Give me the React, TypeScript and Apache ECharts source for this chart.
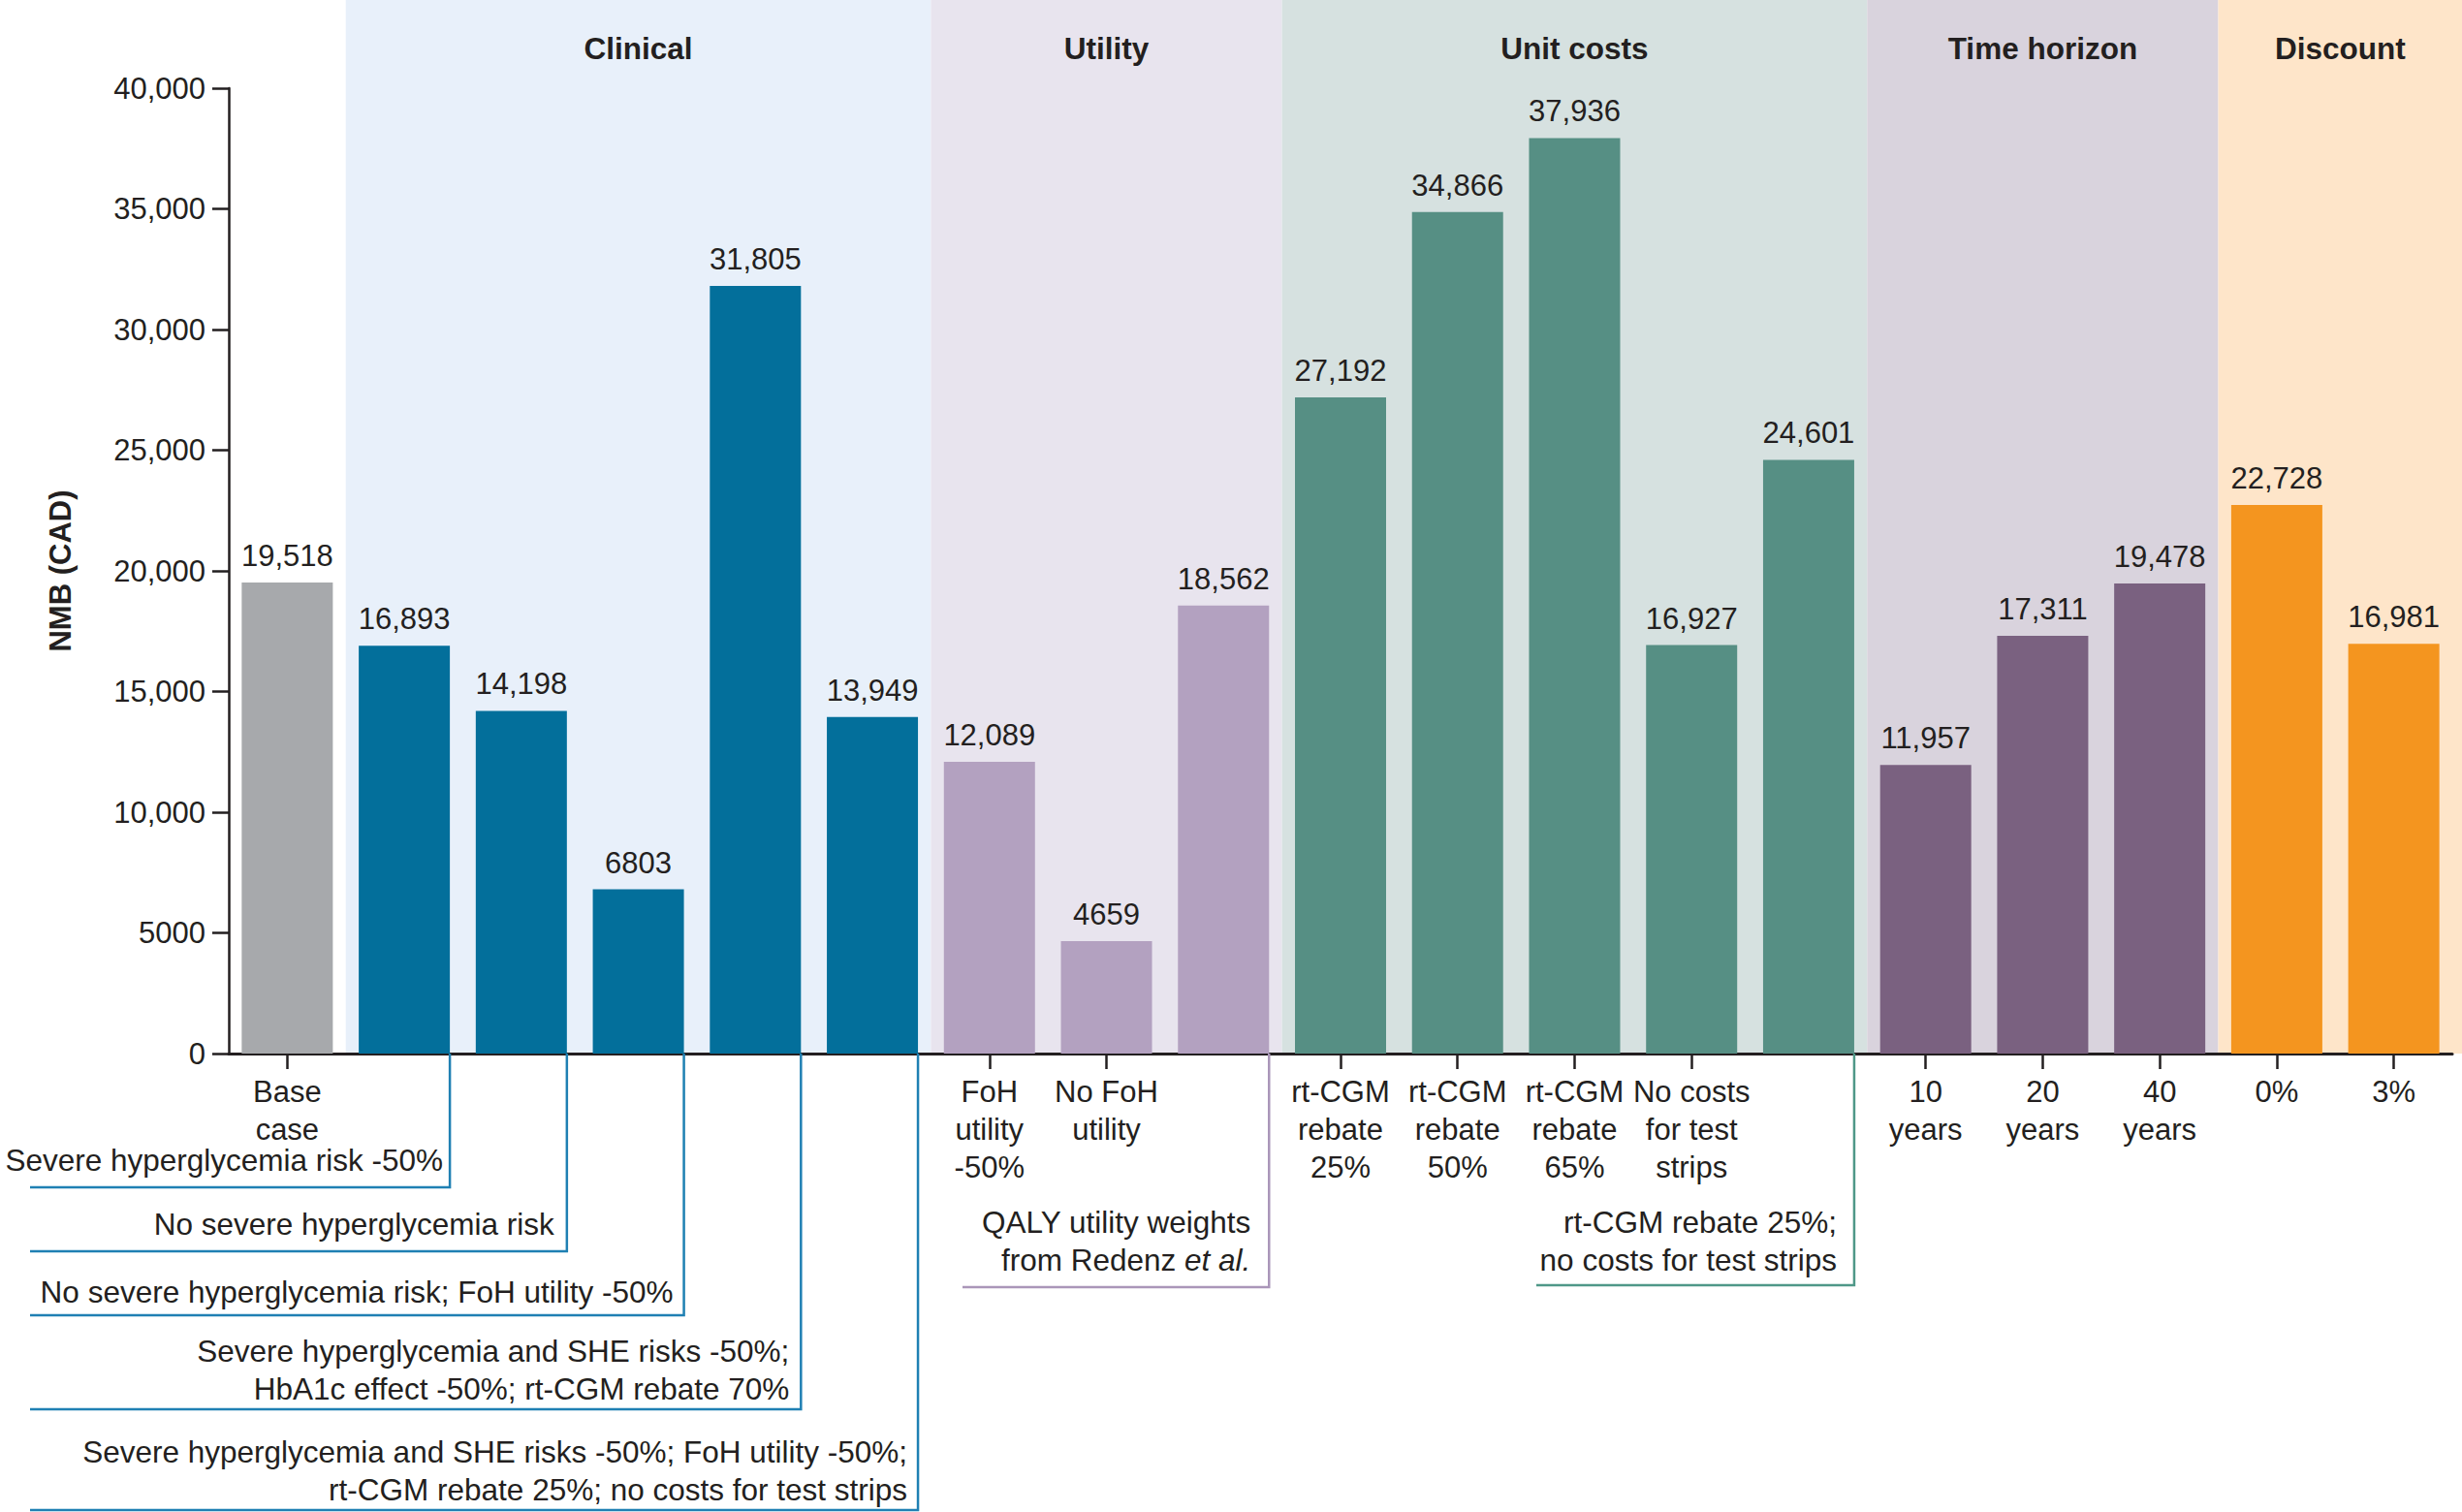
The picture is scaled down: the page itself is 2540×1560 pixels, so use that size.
import React, { useEffect, useRef } from "react";
import * as echarts from "echarts";

// ---- data ----
const categories = [
  "Base case",
  "Severe hyperglycemia risk -50%",
  "No severe hyperglycemia risk",
  "No severe hyperglycemia risk; FoH utility -50%",
  "Severe hyperglycemia and SHE risks -50%; HbA1c effect -50%; rt-CGM rebate 70%",
  "Severe hyperglycemia and SHE risks -50%; FoH utility -50%; rt-CGM rebate 25%; no costs for test strips",
  "FoH utility -50%",
  "No FoH utility",
  "QALY utility weights from Redenz et al.",
  "rt-CGM rebate 25%",
  "rt-CGM rebate 50%",
  "rt-CGM rebate 65%",
  "No costs for test strips",
  "rt-CGM rebate 25%; no costs for test strips",
  "10 years",
  "20 years",
  "40 years",
  "0%",
  "3%",
];

const values = [
  19518, 16893, 14198, 6803, 31805, 13949, 12089, 4659, 18562, 27192, 34866,
  37936, 16927, 24601, 11957, 17311, 19478, 22728, 16981,
];

const tickLabels = [
  "Base\ncase",
  "",
  "",
  "",
  "",
  "",
  "FoH\nutility\n-50%",
  "No FoH\nutility",
  "",
  "rt-CGM\nrebate\n25%",
  "rt-CGM\nrebate\n50%",
  "rt-CGM\nrebate\n65%",
  "No costs\nfor test\nstrips",
  "",
  "10\nyears",
  "20\nyears",
  "40\nyears",
  "0%",
  "3%",
];

// group of each bar (-1 = base case)
const barGroup = [-1, 0, 0, 0, 0, 0, 1, 1, 1, 2, 2, 2, 2, 2, 3, 3, 3, 4, 4];
const groupNames = ["Clinical", "Utility", "Unit costs", "Time horizon", "Discount"];
const groupStart = [1, 6, 9, 14, 17];
const groupEnd = [5, 8, 13, 16, 18];

// bracketed (long) labels
const bracketBars = [1, 2, 3, 4, 5, 8, 13];
const bracketTexts = [
  "Severe hyperglycemia risk -50%",
  "No severe hyperglycemia risk",
  "No severe hyperglycemia risk; FoH utility -50%",
  "Severe hyperglycemia and SHE risks -50%;\nHbA1c effect -50%; rt-CGM rebate 70%",
  "Severe hyperglycemia and SHE risks -50%; FoH utility -50%;\nrt-CGM rebate 25%; no costs for test strips",
  "QALY utility weights\nfrom Redenz {i|et al.}",
  "rt-CGM rebate 25%;\nno costs for test strips",
];

// ---- styles / layout ----
const baseColor = "#a7a9ac";
const groupBarColors = ["#036f9b", "#b3a1c0", "#568f84", "#7a6180", "#f4951f"];
const groupBgColors = ["#e8f0fa", "#e8e4ee", "#d6e1e0", "#d9d3dd", "#fee5c9"];
const groupLineColors = ["#1f80b3", "#aa96b9", "#4f9888", "#7a6180", "#f4951f"];
const bracketLineY = [1225, 1291, 1357, 1454, 1558, 1328, 1326];
const bracketLastTextY = [1197, 1263, 1333, 1433, 1537, 1300, 1300];
const bracketLeft = [31, 31, 31, 31, 31, 993, 1585];
const bracketTextGap = [7, 13, 11, 12, 11, 19, 18];

const FONT = "'Liberation Sans', Arial, Helvetica, sans-serif";
const TEXT = "#231f20";
const FS = 31;
const FS_NOTE = 31.5;
const LH = 39;
const W = 2540;
const H = 1560;
const BAR_W = 94;

const fmt = (v: number) => (v >= 10000 ? v.toLocaleString("en-US") : String(v));

export default function App() {
  const ref = useRef<HTMLDivElement>(null);

  useEffect(() => {
    document.body.style.margin = "0";
    const chart = echarts.init(ref.current!, null, { renderer: "svg" });
    chart.setOption({
      animation: false,
      backgroundColor: "#ffffff",
      grid: { left: 236, top: 91, width: 2294, bottom: 473, containLabel: false },
      xAxis: {
        type: "category",
        data: categories,
        axisLine: { lineStyle: { color: TEXT, width: 3 } },
        axisTick: {
          show: true,
          alignWithLabel: true,
          length: 16,
          interval: (i: number) => tickLabels[i] !== "",
          lineStyle: { color: TEXT, width: 2.5 },
        },
        axisLabel: {
          interval: 0,
          formatter: (_v: string, i: number) => tickLabels[i],
          fontSize: FS,
          lineHeight: LH,
          fontFamily: FONT,
          color: TEXT,
          margin: 20,
        },
      },
      yAxis: {
        type: "value",
        min: 0,
        max: 40000,
        interval: 5000,
        name: "NMB (CAD)",
        nameLocation: "middle",
        nameRotate: 90,
        nameGap: 158,
        nameTextStyle: { fontSize: FS, fontWeight: "bold", fontFamily: FONT, color: TEXT },
        axisLine: { show: true, lineStyle: { color: TEXT, width: 2.5 } },
        axisTick: { show: true, length: 17, lineStyle: { color: TEXT, width: 2.5 } },
        splitLine: { show: false },
        axisLabel: {
          formatter: (v: number) => fmt(v),
          fontSize: FS,
          fontFamily: FONT,
          color: TEXT,
          margin: 24,
        },
      },
      series: [
        {
          type: "bar",
          barWidth: BAR_W,
          data: values.map((v, i) => ({
            value: v,
            itemStyle: { color: barGroup[i] < 0 ? baseColor : groupBarColors[barGroup[i]] },
          })),
          label: {
            show: true,
            position: "top",
            distance: 12,
            formatter: (p: any) => fmt(p.value),
            fontSize: FS,
            fontFamily: FONT,
            color: TEXT,
          },
        },
      ],
    });

    const cx = (i: number) => chart.convertToPixel({ xAxisIndex: 0 }, i) as number;
    const y0 = chart.convertToPixel({ yAxisIndex: 0 }, 0) as number;
    const band = cx(1) - cx(0);
    const graphics: any[] = [];

    groupNames.forEach((name, g) => {
      const x1 = cx(groupStart[g]) - band / 2;
      const x2 = g === groupNames.length - 1 ? W : cx(groupEnd[g]) + band / 2;
      graphics.push({
        type: "rect",
        silent: true,
        z: -10,
        shape: { x: x1, y: 0, width: x2 - x1, height: y0 },
        style: { fill: groupBgColors[g] },
      });
      const xc = (cx(groupStart[g]) - band / 2 + cx(groupEnd[g]) + band / 2) / 2;
      graphics.push({
        type: "text",
        x: g === groupNames.length - 1 ? (x1 + x2) / 2 : xc,
        y: 50,
        z: 5,
        style: {
          text: name,
          fontSize: FS_NOTE,
          fontWeight: "bold",
          fontFamily: FONT,
          fill: TEXT,
          align: "center",
          verticalAlign: "middle",
        },
      });
    });

    bracketBars.forEach((bi, k) => {
      const R = cx(bi) + BAR_W / 2;
      const color = groupLineColors[barGroup[bi]];
      graphics.push({
        type: "polyline",
        z: 5,
        silent: true,
        shape: {
          points: [
            [bracketLeft[k], bracketLineY[k]],
            [R, bracketLineY[k]],
            [R, y0],
          ],
        },
        style: { stroke: color, lineWidth: 2.5, fill: null },
      });
      graphics.push({
        type: "text",
        z: 5,
        x: R - bracketTextGap[k],
        y: bracketLastTextY[k] + LH / 2,
        style: {
          text: bracketTexts[k],
          fontSize: FS_NOTE,
          fontFamily: FONT,
          fill: TEXT,
          lineHeight: LH,
          align: "right",
          verticalAlign: "bottom",
          rich: {
            i: { fontStyle: "italic", fontSize: FS_NOTE, fontFamily: FONT, fill: TEXT, lineHeight: LH },
          },
        },
      });
    });

    chart.setOption({ graphic: graphics });

    return () => chart.dispose();
  }, []);

  return (
    <div
      ref={ref}
      style={{ position: "absolute", left: 0, top: 0, width: W, height: H }}
    />
  );
}
